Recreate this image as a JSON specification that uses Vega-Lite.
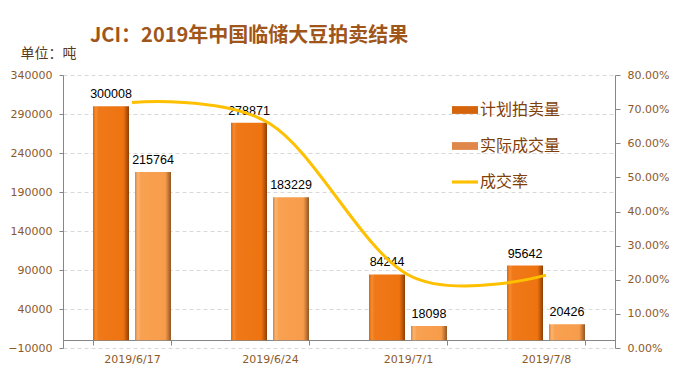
{
  "$schema": "https://vega.github.io/schema/vega-lite/v6.json",
  "width": 552,
  "height": 273,
  "autosize": "none",
  "padding": {"left": 63, "top": 75, "right": 75, "bottom": 32},
  "background": "white",
  "config": {"view": {"stroke": null}, "font": "DejaVu Sans"},
  "title": {
    "text": "JCI：2019年中国临储大豆拍卖结果",
    "anchor": "start",
    "frame": "group",
    "dx": 27,
    "offset": 0,
    "font": "Noto Sans CJK SC",
    "fontSize": 20,
    "fontWeight": "bold",
    "color": "#A0561A"
  },
  "data": {
    "values": [
      {"date": "2019/6/17", "计划拍卖量": 300008, "实际成交量": 215764, "成交率": 0.7192},
      {"date": "2019/6/24", "计划拍卖量": 278871, "实际成交量": 183229, "成交率": 0.6570},
      {"date": "2019/7/1", "计划拍卖量": 84244, "实际成交量": 18098, "成交率": 0.2148},
      {"date": "2019/7/8", "计划拍卖量": 95642, "实际成交量": 20426, "成交率": 0.2136}
    ]
  },
  "layer": [
    {
      "layer": [
        {
          "transform": [
            {"fold": ["计划拍卖量", "实际成交量"], "as": ["series", "v"]},
            {"filter": "datum.series === '计划拍卖量'"}
          ],
          "mark": {
            "type": "bar",
            "color": {
              "gradient": "linear", "x1": 0, "y1": 0, "x2": 1, "y2": 0,
              "stops": [
                {"offset": 0, "color": "#D9650A"},
                {"offset": 0.08, "color": "#F68C30"},
                {"offset": 0.16, "color": "#F07818"},
                {"offset": 0.84, "color": "#EE7410"},
                {"offset": 0.92, "color": "#C45A08"},
                {"offset": 1, "color": "#8A3E05"}
              ]
            }
          },
          "encoding": {
            "x": {
              "field": "date", "type": "nominal", "sort": null,
              "scale": {"paddingInner": 0.435, "paddingOuter": 0.2175},
              "axis": {
                "title": null, "offset": -8, "tickBand": "extent", "tickSize": 5,
                "labelAngle": 0, "labelColor": "#8B5A2B", "labelFontSize": 11,
                "labelPadding": 8, "domainColor": "#868686", "tickColor": "#868686"
              }
            },
            "xOffset": {
              "field": "series",
              "scale": {"domain": ["计划拍卖量", "实际成交量"], "paddingInner": 0.143, "paddingOuter": 0}
            },
            "y": {
              "field": "v", "type": "quantitative",
              "scale": {"domain": [-10000, 340000], "nice": false, "zero": false},
              "axis": {
                "values": [-10000, 40000, 90000, 140000, 190000, 240000, 290000, 340000],
                "tickCount": 20,
                "format": "d",
                "labelOverlap": false,
                "labelBound": false,
                "title": "单位：吨",
                "titleAngle": 0, "titleAlign": "left", "titleBaseline": "middle",
                "titleX": -43, "titleY": -22,
                "titleFont": "Noto Sans CJK SC", "titleFontSize": 14, "titleFontWeight": "normal",
                "titleColor": "#5A3A1A",
                "labelColor": "#8B5A2B", "labelFontSize": 11, "labelPadding": 7,
                "tickSize": 4, "domainColor": "#868686", "tickColor": "#868686",
                "grid": true, "gridColor": "#D9D9D9", "gridDash": [4, 3]
              }
            },
            "y2": {"datum": 0}
          }
        },
        {
          "transform": [
            {"fold": ["计划拍卖量", "实际成交量"], "as": ["series", "v"]},
            {"filter": "datum.series === '实际成交量'"}
          ],
          "mark": {
            "type": "bar",
            "color": {
              "gradient": "linear", "x1": 0, "y1": 0, "x2": 1, "y2": 0,
              "stops": [
                {"offset": 0, "color": "#D98440"},
                {"offset": 0.08, "color": "#FBB570"},
                {"offset": 0.16, "color": "#F9A152"},
                {"offset": 0.84, "color": "#F79C4A"},
                {"offset": 0.92, "color": "#C87A38"},
                {"offset": 1, "color": "#8E5420"}
              ]
            }
          },
          "encoding": {
            "x": {"field": "date", "type": "nominal", "sort": null},
            "xOffset": {"field": "series", "scale": {"domain": ["计划拍卖量", "实际成交量"]}},
            "y": {"field": "v", "type": "quantitative"},
            "y2": {"datum": 0}
          }
        },
        {
          "transform": [
            {"fold": ["计划拍卖量", "实际成交量"], "as": ["series", "v"]}
          ],
          "mark": {"type": "text", "dy": -12, "font": "Liberation Sans", "fontSize": 12.5, "color": "#000000"},
          "encoding": {
            "x": {"field": "date", "type": "nominal", "sort": null},
            "xOffset": {"field": "series", "scale": {"domain": ["计划拍卖量", "实际成交量"]}},
            "y": {"field": "v", "type": "quantitative"},
            "text": {"field": "v", "type": "quantitative", "format": "d"}
          }
        },
        {
          "transform": [
            {"fold": ["计划拍卖量", "实际成交量", "成交率"], "as": ["series", "v"]}
          ],
          "mark": {"type": "point", "filled": true, "opacity": 0},
          "encoding": {
            "color": {
              "field": "series", "type": "nominal",
              "scale": {"domain": ["计划拍卖量", "实际成交量", "成交率"], "range": ["#D4650C", "#E0884A", "#FFC000"]},
              "legend": {
                "orient": "none", "legendX": 389, "legendY": 22, "title": null,
                "labelFont": "Noto Sans CJK SC", "labelFontSize": 16, "labelColor": "#7F3F0A",
                "symbolSize": 676, "symbolOpacity": 1, "symbolStrokeWidth": 0,
                "rowPadding": 15, "labelOffset": 2
              }
            },
            "shape": {
              "field": "series", "type": "nominal",
              "scale": {
                "domain": ["计划拍卖量", "实际成交量", "成交率"],
                "range": ["M-1,-0.3H1V0.3H-1Z", "M-1,-0.3H1V0.3H-1Z", "M-1,-0.12H1V0.12H-1Z"]
              },
              "legend": {
                "orient": "none", "legendX": 389, "legendY": 22, "title": null,
                "labelFont": "Noto Sans CJK SC", "labelFontSize": 16, "labelColor": "#7F3F0A",
                "symbolSize": 676, "symbolOpacity": 1, "symbolStrokeWidth": 0,
                "rowPadding": 15, "labelOffset": 2
              }
            }
          }
        }
      ]
    },
    {
      "mark": {"type": "line", "color": "#FFC000", "strokeWidth": 3, "interpolate": "cardinal"},
      "encoding": {
        "x": {"field": "date", "type": "nominal", "sort": null},
        "y": {
          "field": "成交率", "type": "quantitative",
          "scale": {"domain": [0, 0.8], "nice": false},
          "axis": {
            "orient": "right", "title": null,
            "values": [0, 0.1, 0.2, 0.3, 0.4, 0.5, 0.6, 0.7, 0.8],
            "tickCount": 20,
            "format": ".2%", "grid": false, "labelOverlap": false,
            "labelColor": "#8B5A2B", "labelFontSize": 11, "labelPadding": 7,
            "tickSize": 5, "domainColor": "#868686", "tickColor": "#868686"
          }
        }
      }
    }
  ],
  "resolve": {"scale": {"y": "independent"}}
}
